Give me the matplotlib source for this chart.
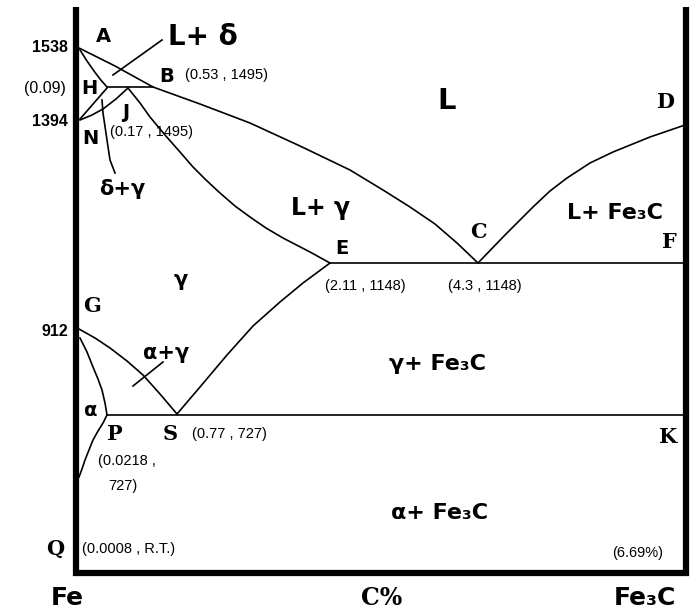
import matplotlib.pyplot as plt

# Schematic Fe-Fe3C diagram, points given in drawing units (x right, y down)
# the original is not to scale, so curves are traced off the picture

frame_left = [(76, 7), (76, 576)]
frame_bottom = [(73, 573), (689, 573)]
frame_right = [(686, 7), (686, 576)]

liquidus_ABC = [(79, 48), (115, 66), (153, 87), (200, 104), (250, 123), (300, 146),
                (350, 170), (383, 190), (410, 207), (435, 224), (457, 243), (478, 263)]
liquidus_CD = [(478, 263), (505, 235), (533, 207), (550, 191), (567, 178), (590, 163),
               (613, 152), (650, 137), (685, 125)]
line_AH = [(80, 50), (87, 61), (94, 71), (100, 79), (107, 87)]
line_HJB = [(107, 87), (153, 87)]
line_HN = [(107, 88), (80, 119)]
line_NJ = [(80, 120), (92, 115), (103, 109), (116, 99), (128, 88)]
line_JE = [(128, 88), (140, 103), (150, 117), (165, 135), (180, 152), (193, 167),
           (206, 180), (220, 193), (235, 206), (250, 217), (266, 228), (283, 238),
           (310, 252), (330, 263)]
line_ECF = [(330, 263), (683, 263)]
line_GS = [(79, 329), (95, 338), (110, 348), (127, 361), (143, 375), (160, 394), (177, 414)]
line_GP = [(80, 338), (87, 352), (93, 367), (98, 379), (102, 390), (105, 403), (107, 415)]
line_PQ = [(107, 415), (103, 423), (98, 431), (93, 440), (89, 450), (85, 460),
           (82, 469), (79, 477)]
line_PSK = [(107, 415), (683, 415)]
line_SE = [(177, 414), (200, 387), (227, 355), (253, 326), (280, 302), (303, 283), (330, 263)]
leader_Ld = [(113, 75), (162, 40)]
leader_dg = [(102, 100), (103, 113), (107, 140), (110, 160), (115, 173)]
leader_ag = [(133, 386), (163, 362)]

curves = [liquidus_ABC, liquidus_CD, line_AH, line_HJB, line_HN, line_NJ, line_JE,
          line_ECF, line_GS, line_GP, line_PQ, line_PSK, line_SE,
          leader_Ld, leader_dg, leader_ag]

# temperature ticks on the left
temp_labels = ['1538', '(0.09)', '1394', '912']
temp_pos = [(68, 48), (66, 88), (68, 121), (68, 332)]

# point letters: (text, x, y, serif?)
point_letters = [('A', 103, 37, False), ('B', 167, 76, False), ('H', 89, 89, False),
                 ('J', 126, 112, False), ('N', 90, 139, False), ('E', 342, 248, False),
                 ('C', 478, 232, True), ('D', 665, 102, True), ('F', 669, 242, True),
                 ('G', 92, 306, True), ('P', 115, 434, True), ('S', 170, 434, True),
                 ('K', 668, 437, True), ('Q', 55, 549, True)]

coord_labels = ['(0.53 , 1495)', '(0.17 , 1495)', '(2.11 , 1148)', '(4.3 , 1148)',
                '(0.77 , 727)', '(0.0218 ,', '727)', '(0.0008 , R.T.)', '(6.69%)']
coord_pos = [(185, 75), (110, 132), (325, 286), (448, 286), (192, 434),
             (98, 461), (108, 486), (82, 549), (612, 553)]

phase_labels = ['L', 'L+ δ', 'δ+γ', 'L+ γ', 'γ', 'L+ Fe₃C', 'α+γ', 'γ+ Fe₃C',
                'α', 'α+ Fe₃C']
phase_pos = [(447, 101), (203, 37), (122, 189), (321, 208), (181, 280), (615, 213),
             (166, 353), (438, 364), (91, 411), (440, 513)]
phase_size = [21, 20, 15, 17, 15, 16, 15, 16, 14, 16]

fig = plt.figure(figsize=(6.94, 6.12), dpi=100)
ax = fig.add_axes([0, 0, 1, 1])
ax.set_xlim(0, 694)
ax.set_ylim(612, 0)
ax.axis('off')

for fr in [frame_left, frame_bottom, frame_right]:
    xs, ys = zip(*fr)
    ax.plot(xs, ys, color='black', lw=4.5, solid_capstyle='butt')

for c in curves:
    xs, ys = zip(*c)
    ax.plot(xs, ys, color='black', lw=1.2, solid_joinstyle='round')

for t, (x, y) in zip(temp_labels, temp_pos):
    ax.text(x, y, t, ha='right', va='center', fontsize=11.5,
            family='Liberation Sans', fontweight='bold' if t != '(0.09)' else 'normal')

for t, x, y, serif in point_letters:
    ax.text(x, y, t, ha='center', va='center', fontsize=15 if serif else 14,
            fontweight='bold', family='DejaVu Serif' if serif else 'DejaVu Sans')

for t, (x, y) in zip(coord_labels, coord_pos):
    ax.text(x, y, t, ha='left', va='center', fontsize=10.5, family='Liberation Sans')

for t, (x, y), s in zip(phase_labels, phase_pos, phase_size):
    ax.text(x, y, t, ha='center', va='center', fontsize=s, fontweight='bold',
            family='DejaVu Sans')

# bottom axis labels
ax.text(67, 598, 'Fe', ha='center', va='center', fontsize=18, fontweight='bold',
        family='DejaVu Sans')
ax.text(382, 598, 'C%', ha='center', va='center', fontsize=17, fontweight='bold',
        family='DejaVu Serif')
ax.text(645, 598, 'Fe₃C', ha='center', va='center', fontsize=18, fontweight='bold',
        family='DejaVu Sans')

fig.savefig('out.png', dpi=100)
